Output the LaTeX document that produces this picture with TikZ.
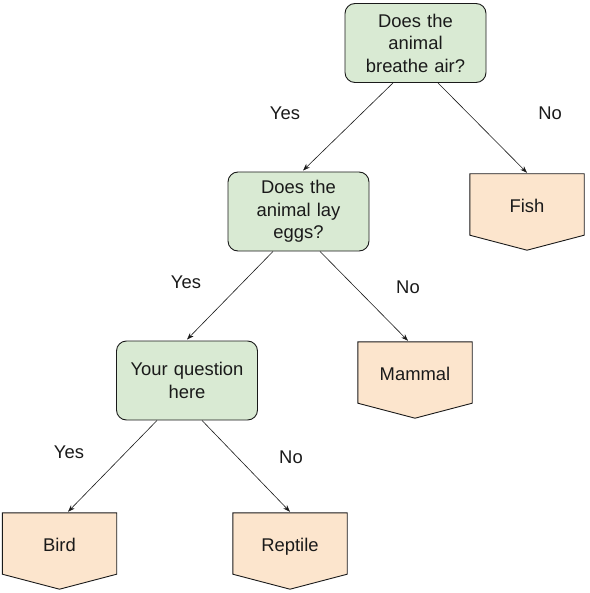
\documentclass[tikz,border=0pt]{standalone}
\usepackage{fontspec}
\setmainfont{Liberation Sans}
\usetikzlibrary{calc,arrows.meta}
\definecolor{qgreen}{HTML}{D9EAD3}
\definecolor{leaforange}{HTML}{FCE5CD}
\definecolor{ink}{HTML}{1A1A1A}
\begin{document}
\begin{tikzpicture}[x=1pt,y=-1pt,
  every node/.style={font=\fontsize{18.4}{22.5}\selectfont, text=ink},
  qbox/.style={draw=ink, line width=0.9pt, fill=qgreen, rounded corners=10pt,
    minimum width=141pt, minimum height=79pt, align=center, inner sep=2pt, text width=134pt},
  leafbox/.style={minimum width=114pt, minimum height=64pt, inner sep=0pt},
  leafshape/.style={draw=ink, line width=0.9pt, fill=leaforange},
  leaftext/.style={text height=13pt, text depth=0pt, inner sep=0pt},
  arr/.style={draw=ink, line width=0.6pt, -{Stealth[length=7pt,width=5pt]}},
  lbl/.style={}
]
\useasboundingbox (0,0) rectangle (589,593);

% question nodes
\node[qbox] (q1) at (415.5,43) {Does the\\animal\\breathe air?};
\node[qbox] (q2) at (298.5,211.5) {Does the\\animal lay\\eggs?};
\node[qbox] (q3) at (187,380.5) {Your question\\here};

% leaf nodes (text placeholders)
\node[leafbox] (fish) at (527,206) {};
\node[leafbox] (mammal) at (415,374) {};
\node[leafbox] (bird) at (59.5,545) {};
\node[leafbox] (reptile) at (290,545) {};

% leaf shapes
\foreach \n in {fish,mammal,bird,reptile}{
  \fill[leafshape] (\n.north west) -- (\n.north east) -- ($(\n.south east)+(0,-3)$)
    -- ($(\n.south)+(0,12)$) -- ($(\n.south west)+(0,-3)$) -- cycle;
}
\node[leaftext] (tfish) at (fish) {Fish};
\node[leaftext] (tmammal) at (mammal) {Mammal};
\node[leaftext] (tbird) at (bird) {Bird};
\node[leaftext] (treptile) at (reptile) {Reptile};

% connectors
\draw[arr] ($(q1.south)+(-22.5,0)$) -- ($(q2.north)+(4.5,-1)$);
\draw[arr] ($(q1.south)+(22.5,0)$) -- ($(fish.north)+(0,-1)$);
\draw[arr] ($(q2.south)+(-25.5,0)$) -- ($(q3.north)+(0,-1)$);
\draw[arr] ($(q2.south)+(21.5,0)$) -- ($(mammal.north)+(-7,-1)$);
\draw[arr] ($(q3.south)+(-30,0)$) -- ($(bird.north)+(8.5,-1)$);
\draw[arr] ($(q3.south)+(15,0)$) -- ($(reptile.north)+(0,-1)$);

% edge labels
\node[lbl] (y1) at (285,113) {Yes};
\node[lbl] (n1) at (550,113) {No};
\node[lbl] (y2) at (186,282) {Yes};
\node[lbl] (n2) at (408,287) {No};
\node[lbl] (y3) at (69,452) {Yes};
\node[lbl] (n3) at (291,457) {No};
\end{tikzpicture}
\end{document}
